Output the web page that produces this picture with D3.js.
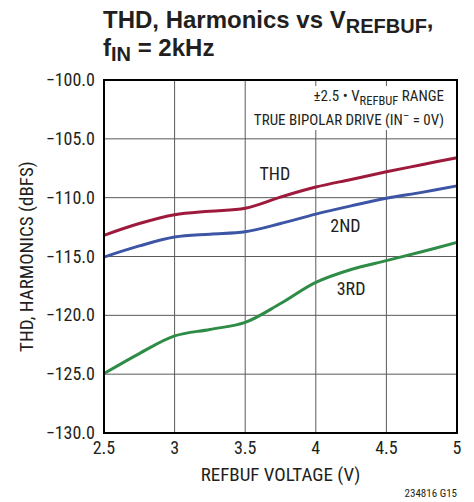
<!DOCTYPE html>
<style>
  body { margin: 0; background: #fff; }
  text { font-family: "Liberation Sans Narrow", "Roboto Condensed", "Arial Narrow", sans-serif; fill: #231f20; }
  text.title { font-family: "Liberation Sans", Arial, sans-serif; font-weight: bold; font-size: 24px; }
  tspan.sub { font-family: "Liberation Sans Narrow", "Arial Narrow", sans-serif; font-size: 20px; }
</style>
<body></body>
<script src="https://cdn.jsdelivr.net/npm/d3@7"></script>
<script>
  const width = 474
  const height = 502
  const margin = { top: 80, right: 17, bottom: 69, left: 104 }

  // refbuf voltage (V)
  const voltage = [2.5, 2.75, 3, 3.25, 3.5, 3.75, 4, 4.25, 4.5, 4.75, 5]
  const thd = [-113.2, -112.2, -111.45, -111.15, -110.9, -109.95, -109.1, -108.45, -107.8, -107.2, -106.6]
  const second = [-115.05, -114.1, -113.35, -113.1, -112.9, -112.2, -111.4, -110.7, -110.05, -109.55, -109.0]
  const third = [-124.95, -123.25, -121.75, -121.2, -120.6, -119.0, -117.2, -116.1, -115.35, -114.6, -113.8]
  const xTicks = [2.5, 3, 3.5, 4, 4.5, 5]
  const yTicks = [-100, -105, -110, -115, -120, -125, -130]

  const series = [
    { name: "THD", values: thd, color: "#9e1a3c", label: [3.71, -108.5] },
    { name: "2ND", values: second, color: "#3d55a5", label: [4.21, -112.9] },
    { name: "3RD", values: third, color: "#2e8c47", label: [4.25, -118.3] }
  ]

  const svg = d3.select("body")
    .append("svg")
    .attr("width", width)
    .attr("height", height)

  const x = d3.scaleLinear()
    .domain([2.5, 5])
    .range([margin.left, width - margin.right])

  const y = d3.scaleLinear()
    .domain([-130, -100])
    .range([height - margin.bottom, margin.top])

  // grid
  svg.append("g")
    .selectAll("line.vgrid")
    .data(xTicks.slice(1, -1))
    .enter()
    .append("line")
    .attr("x1", d => x(d)).attr("x2", d => x(d))
    .attr("y1", y(-100)).attr("y2", y(-130))
    .attr("stroke", "#5a5a5a").attr("stroke-width", 1)

  svg.append("g")
    .selectAll("line.hgrid")
    .data(yTicks.slice(1, -1))
    .enter()
    .append("line")
    .attr("x1", x(2.5)).attr("x2", x(5))
    .attr("y1", d => y(d)).attr("y2", d => y(d))
    .attr("stroke", "#5a5a5a").attr("stroke-width", 1)

  // note box (hides grid behind the text)
  svg.append("rect")
    .attr("x", 252).attr("y", 86)
    .attr("width", 196).attr("height", 44)
    .attr("fill", "#fff")

  const note = svg.append("g").attr("text-anchor", "end").style("font-size", "15px")
  const n1 = note.append("text").attr("x", 444).attr("y", 101)
  n1.append("tspan").text("±2.5 • V")
  n1.append("tspan").attr("dy", 4).style("font-size", "12.5px").text("REFBUF")
  n1.append("tspan").attr("dy", -4).text(" RANGE")
  const n2 = note.append("text").attr("x", 444).attr("y", 125)
  n2.append("tspan").text("TRUE BIPOLAR DRIVE (IN")
  n2.append("tspan").attr("dy", -6).style("font-size", "11px").text("–")
  n2.append("tspan").attr("dy", 6).text(" = 0V)")

  // curves
  const line = d3.line()
    .x((d, i) => x(voltage[i]))
    .y(d => y(d))
    .curve(d3.curveCatmullRom.alpha(0.5))

  svg.append("g")
    .selectAll("path")
    .data(series)
    .enter()
    .append("path")
    .attr("d", d => line(d.values))
    .attr("fill", "none")
    .attr("stroke", d => d.color)
    .attr("stroke-width", 3)

  svg.append("g")
    .selectAll("text")
    .data(series)
    .enter()
    .append("text")
    .attr("x", d => x(d.label[0]))
    .attr("y", d => y(d.label[1]))
    .attr("text-anchor", "middle")
    .style("font-size", "18px")
    .text(d => d.name)

  // frame
  svg.append("rect")
    .attr("x", x(2.5)).attr("y", y(-100))
    .attr("width", x(5) - x(2.5)).attr("height", y(-130) - y(-100))
    .attr("fill", "none")
    .attr("stroke", "#000")
    .attr("stroke-width", 2)

  // tick labels
  svg.append("g")
    .selectAll("text")
    .data(yTicks)
    .enter()
    .append("text")
    .attr("x", margin.left - 9)
    .attr("y", d => y(d) + 6)
    .attr("text-anchor", "end")
    .style("font-size", "18px")
    .text(d => "−" + Math.abs(d).toFixed(1))

  svg.append("g")
    .selectAll("text")
    .data(xTicks)
    .enter()
    .append("text")
    .attr("x", d => x(d))
    .attr("y", height - margin.bottom + 21)
    .attr("text-anchor", "middle")
    .style("font-size", "18px")
    .text(d => d)

  svg.append("text")
    .attr("x", (x(2.5) + x(5)) / 2)
    .attr("y", 481)
    .attr("text-anchor", "middle")
    .style("font-size", "19px")
    .text("REFBUF VOLTAGE (V)")

  svg.append("text")
    .attr("transform", `translate(33, ${(y(-100) + y(-130)) / 2}) rotate(-90)`)
    .attr("text-anchor", "middle")
    .style("font-size", "19px")
    .text("THD, HARMONICS (dBFS)")

  svg.append("text")
    .attr("x", 457)
    .attr("y", 497)
    .attr("text-anchor", "end")
    .style("font-size", "11px")
    .text("234816 G15")

  // title
  const t1 = svg.append("text").attr("class", "title").attr("x", 103).attr("y", 28)
  t1.append("tspan").text("THD, Harmonics vs V")
  t1.append("tspan").attr("class", "sub").attr("dy", 5).text("REFBUF")
  t1.append("tspan").attr("dy", -5).text(",")
  const t2 = svg.append("text").attr("class", "title").attr("x", 103).attr("y", 56)
  t2.append("tspan").text("f")
  t2.append("tspan").attr("class", "sub").attr("dy", 5).text("IN")
  t2.append("tspan").attr("dy", -5).text(" = 2kHz")
</script>
